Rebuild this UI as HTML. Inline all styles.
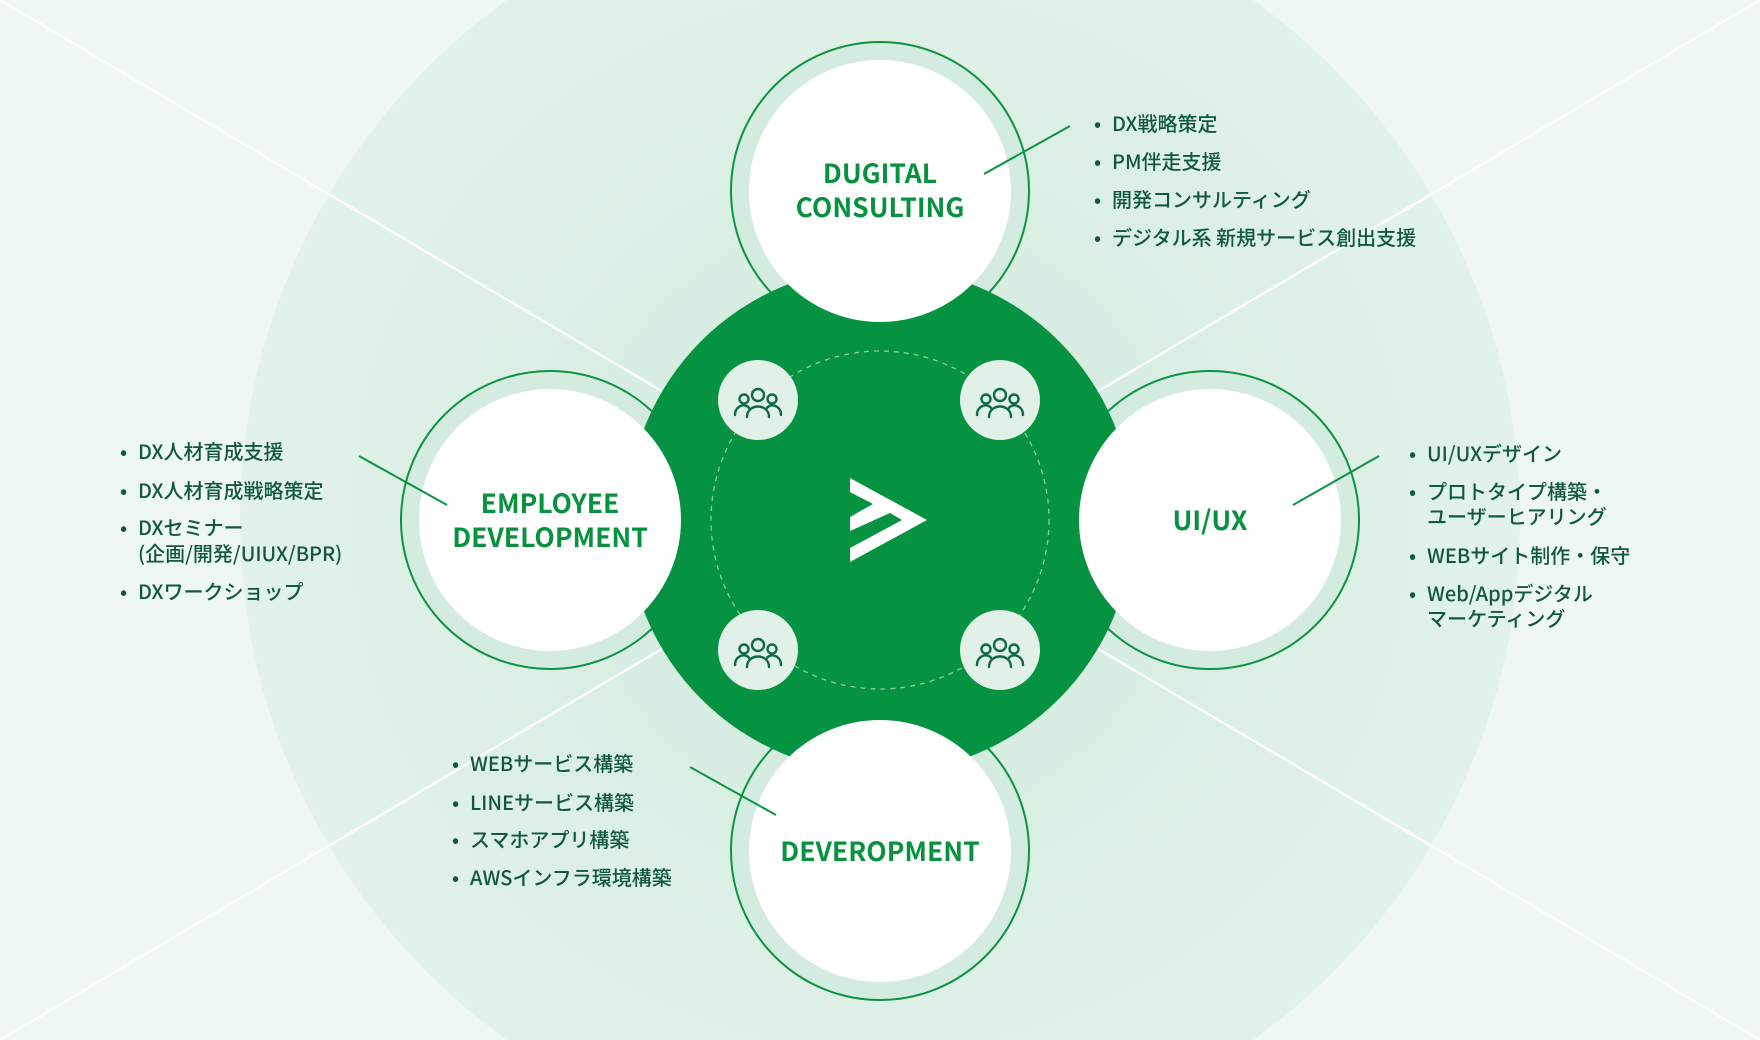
<!DOCTYPE html>
<html><head><meta charset="utf-8">
<style>
html,body{margin:0;padding:0;width:1760px;height:1040px;overflow:hidden;background:#eef7f2;}
svg{display:block}
.lbl{font-family:"Noto Sans CJK JP","Liberation Sans",sans-serif;font-weight:700;font-size:26.5px;fill:#08913f;text-anchor:middle}
.li{font-family:"Noto Sans CJK JP","Liberation Sans",sans-serif;font-weight:500;font-size:20px;fill:#10583e}
</style></head><body>
<svg width="1760" height="1040" viewBox="0 0 1760 1040" xmlns="http://www.w3.org/2000/svg">
<defs>
<radialGradient id="glow" cx="880" cy="520" r="640" gradientUnits="userSpaceOnUse">
<stop offset="0" stop-color="#cfe8da"/><stop offset="0.6" stop-color="#dcefe4"/><stop offset="1" stop-color="#e2f2e9"/>
</radialGradient>
<g id="ppl" fill="none" stroke="#0e6a45" stroke-width="2.4" stroke-linecap="round">
<circle cx="0" cy="-8" r="6"/><path d="M-11 14 C-11 0 11 0 11 14"/>
<circle cx="-14" cy="-4" r="4.5"/><path d="M-23 12 C-23 2 -12 0 -9 5"/>
<circle cx="14" cy="-4" r="4.5"/><path d="M23 12 C23 2 12 0 9 5"/>
</g>
</defs>
<rect width="1760" height="1040" fill="#eef7f2"/>
<circle cx="880" cy="520" r="640" fill="url(#glow)"/>
<line x1="0" y1="0" x2="1760" y2="1040" stroke="#ffffff" stroke-width="2.5" opacity="0.9"/>
<line x1="1760" y1="0" x2="0" y2="1040" stroke="#ffffff" stroke-width="2.5" opacity="0.9"/>
<g fill="#d4ebdf" stroke="#0a9444" stroke-width="2">
<circle cx="880" cy="191" r="149"/>
<circle cx="550" cy="520" r="149"/>
<circle cx="1210" cy="520" r="149"/>
<circle cx="880" cy="851" r="149"/>
</g>
<circle cx="880" cy="520" r="253" fill="#059342"/>
<circle cx="880" cy="520" r="169" fill="none" stroke="#8cc9a5" stroke-width="1.3" stroke-dasharray="5 5"/>
<g fill="#ffffff">
<circle cx="880" cy="191" r="131"/>
<circle cx="550" cy="520" r="131"/>
<circle cx="1210" cy="520" r="131"/>
<circle cx="880" cy="851" r="131"/>
</g>
<g fill="#e1f1e8">
<circle cx="758" cy="400" r="40"/><circle cx="1000" cy="400" r="40"/>
<circle cx="758" cy="650" r="40"/><circle cx="1000" cy="650" r="40"/>
</g>
<use href="#ppl" x="758" y="403"/><use href="#ppl" x="1000" y="403"/>
<use href="#ppl" x="758" y="653"/><use href="#ppl" x="1000" y="653"/>
<polygon points="850,478 927,520 850,562 850,548 902,520 890,513 850,531 850,517 873,504 850,492" fill="#fff"/>
<g stroke="#0a9444" stroke-width="2">
<line x1="984" y1="174" x2="1070" y2="126"/>
<line x1="359" y1="456" x2="447" y2="505"/>
<line x1="1293" y1="505" x2="1379" y2="456"/>
<line x1="690" y1="767" x2="776" y2="815"/>
</g>
<text class="lbl" x="880" y="183">DUGITAL</text>
<text class="lbl" x="880" y="217">CONSULTING</text>
<text class="lbl" x="550" y="513">EMPLOYEE</text>
<text class="lbl" x="550" y="547">DEVELOPMENT</text>
<text class="lbl" x="1210" y="530">UI/UX</text>
<text class="lbl" x="880" y="861">DEVEROPMENT</text>
<g class="li">
<text x="1094" y="131">•</text><text x="1112" y="131">DX戦略策定</text>
<text x="1094" y="169">•</text><text x="1112" y="169">PM伴走支援</text>
<text x="1094" y="207">•</text><text x="1112" y="207">開発コンサルティング</text>
<text x="1094" y="245">•</text><text x="1112" y="245">デジタル系 新規サービス創出支援</text>

<text x="120" y="459">•</text><text x="138" y="459">DX人材育成支援</text>
<text x="120" y="498">•</text><text x="138" y="498">DX人材育成戦略策定</text>
<text x="120" y="535">•</text><text x="138" y="535">DXセミナー</text>
<text x="138" y="561">(企画/開発/UIUX/BPR)</text>
<text x="120" y="599">•</text><text x="138" y="599">DXワークショップ</text>

<text x="1409" y="461">•</text><text x="1427" y="461">UI/UXデザイン</text>
<text x="1409" y="499">•</text><text x="1427" y="499">プロトタイプ構築・</text>
<text x="1427" y="524">ユーザーヒアリング</text>
<text x="1409" y="563">•</text><text x="1427" y="563">WEBサイト制作・保守</text>
<text x="1409" y="601">•</text><text x="1427" y="601">Web/Appデジタル</text>
<text x="1427" y="626">マーケティング</text>

<text x="452" y="771">•</text><text x="470" y="771">WEBサービス構築</text>
<text x="452" y="810">•</text><text x="470" y="810">LINEサービス構築</text>
<text x="452" y="847">•</text><text x="470" y="847">スマホアプリ構築</text>
<text x="452" y="885">•</text><text x="470" y="885">AWSインフラ環境構築</text>
</g>
</svg>
</body></html>
